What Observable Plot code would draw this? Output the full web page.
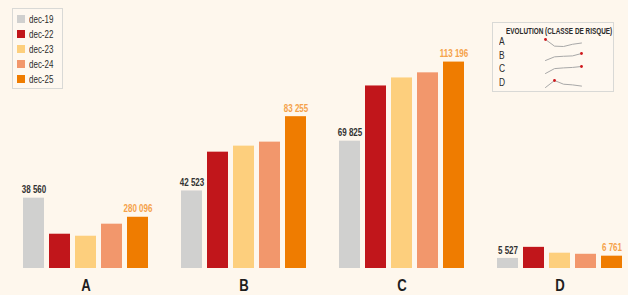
<!DOCTYPE html>
<html><head><meta charset="utf-8">
<script src="https://cdn.jsdelivr.net/npm/d3@7"></script>
<script src="https://cdn.jsdelivr.net/npm/@observablehq/plot@0.6"></script>
<style>
html,body{margin:0;padding:0;background:#fef7ed;}
body{width:628px;height:295px;position:relative;overflow:hidden;font-family:"Liberation Sans",Arial,sans-serif;}
#chart{position:absolute;left:0;top:0;}
#legend{position:absolute;left:12px;top:8px;width:49px;height:79px;border:1px solid #d9d9d6;background:#fef8f0;}
.sw{position:absolute;left:4px;width:8px;height:8px;}
.lt{position:absolute;left:16px;font-size:10.5px;line-height:10px;color:#2b2b2b;white-space:nowrap;transform-origin:0 50%;transform:scaleX(0.76);}
#evo{position:absolute;left:492px;top:22px;width:120px;height:68px;border:1px solid #d9d9d6;background:#fef8f0;}
#evo .t{position:absolute;left:13px;top:3px;font-size:8.5px;font-weight:bold;color:#2b2b2b;white-space:nowrap;transform-origin:0 0;}
#evo .r{position:absolute;left:6px;font-size:10.5px;color:#2b2b2b;transform-origin:0 0;transform:scaleX(0.8);}
#evo .s{position:absolute;left:50px;}
</style></head>
<body>
<div id="chart"></div>
<div id="legend"></div>
<div id="evo"><div class="t" id="evoTitle">EVOLUTION (CLASSE DE RISQUE)</div></div>
<script>
const groups = ["A", "B", "C", "D"];
const series = ["dec-19", "dec-22", "dec-23", "dec-24", "dec-25"];
const colors = ["#d0d0cf", "#c1161b", "#fdcf7d", "#f2976c", "#ef7c00"];
const valuesA = [38560, 18800, 17700, 24300, 28096];
const valuesB = [42523, 63800, 67100, 69300, 83255];
const valuesC = [69825, 100100, 104500, 107300, 113196];
const valuesD = [5527, 11600, 8400, 7800, 6761];
const firstLabels = ["38 560", "42 523", "69 825", "5 527"];
const lastLabels = ["280 096", "83 255", "113 196", "6 761"];

const allValues = [valuesA, valuesB, valuesC, valuesD];
const data = [];
groups.forEach((g, gi) => series.forEach((s, si) => {
  let label = null;
  if (si === 0) label = firstLabels[gi];
  if (si === series.length - 1) label = lastLabels[gi];
  data.push({group: g, serie: s, value: allValues[gi][si], label, last: si === series.length - 1});
}));

const font = '"Liberation Sans",Arial,sans-serif';
const chart = Plot.plot({
  width: 628, height: 295,
  marginLeft: 20, marginRight: 3, marginTop: 20, marginBottom: 27,
  style: {background: "transparent", fontFamily: font},
  fx: {domain: groups, paddingInner: 0.183, paddingOuter: 0},
  x: {domain: series, paddingInner: 0.18, paddingOuter: 0, axis: null},
  y: {domain: [0, 136000], axis: null},
  color: {domain: series, range: colors},
  marks: [
    Plot.barY(data, {fx: "group", x: "serie", y: "value", fill: "serie"}),
    Plot.text(data.filter(d => d.label), {fx: "group", x: "serie", y: "value", text: "label", dy: -8,
      fill: d => d.last ? "#f5a24a" : "#333", fontSize: 10, fontWeight: "bold"}),
    Plot.axisFx({anchor: "bottom", label: null, tickSize: 0, tickPadding: 11, fontSize: 16, fontWeight: "bold", fill: "#1e1e1e"})
  ]
});
document.getElementById("chart").appendChild(chart);

// condense SVG text to mimic a condensed typeface
chart.querySelectorAll("text").forEach(t => {
  const L = t.getComputedTextLength();
  const f = t.textContent.length === 1 ? 0.82 : 0.8;
  t.setAttribute("textLength", (L * f).toFixed(1));
  t.setAttribute("lengthAdjust", "spacingAndGlyphs");
});

const legend = document.getElementById("legend");
series.forEach((s, i) => {
  const sw = document.createElement("div");
  sw.className = "sw"; sw.style.top = (6 + i * 15) + "px"; sw.style.background = colors[i];
  legend.appendChild(sw);
  const t = document.createElement("div");
  t.className = "lt"; t.style.top = (5 + i * 15) + "px"; t.textContent = s;
  legend.appendChild(t);
});

const evo = document.getElementById("evo");
const title = document.getElementById("evoTitle");
title.style.transform = `scaleX(${(106 / title.scrollWidth).toFixed(3)})`;
groups.forEach((g, gi) => {
  const top = 12 + gi * 13.7;
  const r = document.createElement("div");
  r.className = "r"; r.style.top = top + "px"; r.textContent = g;
  evo.appendChild(r);
  const vals = allValues[gi].map((v, i) => ({i, v}));
  const mx = d3.greatest(vals, d => d.v);
  const sp = Plot.plot({
    width: 40, height: 11, margin: 2,
    style: {background: "transparent"},
    x: {axis: null, domain: [0, 4]}, y: {axis: null},
    marks: [
      Plot.line(vals, {x: "i", y: "v", stroke: "#a8a8a8", strokeWidth: 1}),
      Plot.dot([mx], {x: "i", y: "v", fill: "#d0161b", r: 1.4, stroke: "none"})
    ]
  });
  const s = document.createElement("div");
  s.className = "s"; s.style.top = (top + 2) + "px";
  s.appendChild(sp);
  evo.appendChild(s);
});
</script>
</body></html>
